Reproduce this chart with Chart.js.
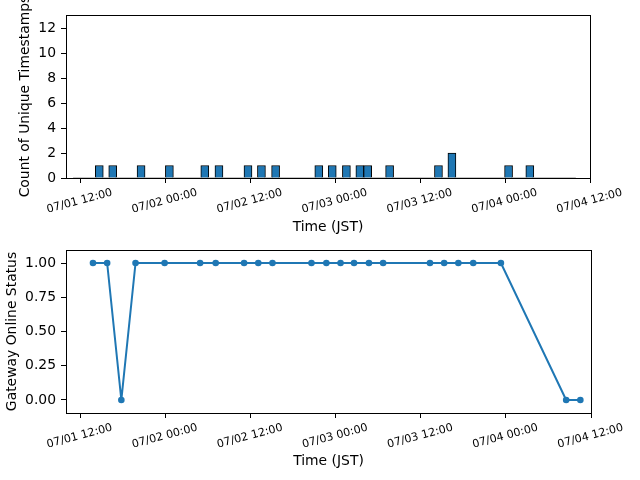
<!DOCTYPE html>
<html>
<head>
<meta charset="utf-8">
<script src="https://cdn.jsdelivr.net/npm/chart.js@4.4.1/dist/chart.umd.min.js"></script>
<style>
  html, body { margin: 0; padding: 0; background: #fff; }
  #wrap { position: relative; width: 640px; height: 480px; }
  .panel { position: absolute; left: 0; width: 640px; height: 240px; }
</style>
</head>
<body>
<div id="wrap">
  <div class="panel" style="top:0"><canvas id="countChart" width="640" height="240"></canvas></div>
  <div class="panel" style="top:240px"><canvas id="statusChart" width="640" height="240"></canvas></div>
</div>
<script>
// x values are hours counted from 07/01 00:00 JST
const timeTicks = [12, 24, 36, 48, 60, 72, 84];
const countTicks = [0, 2, 4, 6, 8, 10, 12];
const statusTicks = [0, 0.25, 0.5, 0.75, 1];

// top panel: histogram of unique timestamps
const binHours = [14.7, 16.6, 20.6, 24.6, 29.6, 31.6, 35.7, 37.6, 39.6, 45.7, 47.6, 49.6, 51.5, 52.6, 55.7, 62.6, 64.5, 72.5, 75.5];
const binCounts = [1, 1, 1, 1, 1, 1, 1, 1, 1, 1, 1, 1, 1, 1, 1, 1, 2, 1, 1];
const histRange = [11.0, 82.0];

// bottom panel: gateway online status
const statusHours = [13.8, 15.8, 17.8, 19.8, 23.9, 28.9, 31.1, 35.1, 37.1, 39.1, 44.6, 46.7, 48.7, 50.6, 52.7, 54.7, 61.3, 63.3, 65.3, 67.4, 71.3, 80.5, 82.5];
const statusValues = [1, 1, 0, 1, 1, 1, 1, 1, 1, 1, 1, 1, 1, 1, 1, 1, 1, 1, 1, 1, 1, 0, 0];

const blue = '#1f77b4';
Chart.defaults.font.family = 'DejaVu Sans';
Chart.defaults.color = '#000';

function fmtTime(h) {
    const day = 1 + Math.floor(h / 24);
    const hr = h % 24;
    return '07/0' + day + ' ' + String(hr).padStart(2, '0') + ':00';
}

const framePlugin = {
    id: 'frame',
    afterDraw(chart) {
        const { ctx, chartArea: a } = chart;
        ctx.save();
        ctx.strokeStyle = '#000';
        ctx.lineWidth = 1;
        ctx.strokeRect(Math.round(a.left) + 0.5, Math.round(a.top) + 0.5,
            Math.round(a.right - a.left), Math.round(a.bottom - a.top));
        ctx.restore();
    },
};

function timeAxis(axisHeight, titlePad) {
    return {
        type: 'linear',
        min: 10,
        max: 84,
        offset: false,
        afterBuildTicks: (s) => { s.ticks = timeTicks.map((v) => ({ value: v })); },
        afterFit: (s) => {
            s.height = axisHeight;
            s.paddingLeft = 0;
            s.paddingRight = 0;
        },
        grid: { display: true, drawOnChartArea: false, color: '#000', tickLength: 5, offset: false },
        border: { display: false },
        ticks: {
            autoSkip: false,
            minRotation: 15,
            maxRotation: 15,
            labelOffset: 32,
            padding: 3,
            font: { size: 11.1 },
            callback: (v) => fmtTime(v),
        },
        title: { display: true, text: 'Time (JST)', font: { size: 13.9 }, padding: { top: 0, bottom: titlePad } },
    };
}

function valueAxis(min, max, ticks, fmt, title, titlePad) {
    return {
        min: min,
        max: max,
        afterBuildTicks: (s) => { s.ticks = ticks.map((v) => ({ value: v })); },
        afterFit: (s) => {
            s.width = 66;
            s.paddingTop = 0;
            s.paddingBottom = 0;
        },
        grid: { display: true, drawOnChartArea: false, color: '#000', tickLength: 5 },
        border: { display: false },
        ticks: { padding: 5, font: { size: 13.9 }, callback: fmt },
        title: { display: true, text: title, font: { size: 13.9 }, padding: { top: titlePad, bottom: 0 } },
    };
}

function renderCountChart() {
    const canvas = document.getElementById('countChart');

    new Chart(canvas, {
        type: 'bar',
        data: {
            datasets: [{
                type: 'bar',
                data: binHours.map((h, i) => ({ x: h, y: binCounts[i] })),
                backgroundColor: blue,
                borderColor: '#000',
                borderWidth: 1,
                barThickness: 8,
                order: 0,
            }, {
                type: 'line',
                data: histRange.map((h) => ({ x: h, y: 0 })),
                borderColor: 'rgba(0,0,0,0.45)',
                borderWidth: 1,
                pointRadius: 0,
                order: 1,
            }],
        },
        options: {
            responsive: false,
            animation: false,
            layout: { padding: { left: 0, top: 15, right: 50, bottom: 0 } },
            plugins: { legend: { display: false }, tooltip: { enabled: false } },
            scales: {
                x: timeAxis(62, 4.7),
                y: valueAxis(0, 13.05, countTicks, (v) => String(v), 'Count of Unique Timestamps', 17),
            },
        },
        plugins: [framePlugin],
    });
}

function renderStatusChart() {
    const canvas = document.getElementById('statusChart');

    new Chart(canvas, {
        type: 'line',
        data: {
            datasets: [{
                data: statusHours.map((h, i) => ({ x: h, y: statusValues[i] })),
                borderColor: blue,
                backgroundColor: blue,
                borderWidth: 2,
                borderJoinStyle: 'round',
                pointRadius: 3.3,
                pointBorderWidth: 0,
                tension: 0,
            }],
        },
        options: {
            responsive: false,
            animation: false,
            layout: { padding: { left: 0, top: 10, right: 49, bottom: 0 } },
            plugins: { legend: { display: false }, tooltip: { enabled: false } },
            scales: {
                x: timeAxis(67, 10.2),
                y: valueAxis(-0.095, 1.095, statusTicks, (v) => v.toFixed(2), 'Gateway Online Status', 3.7),
            },
        },
        plugins: [framePlugin],
    });
}

renderCountChart();
renderStatusChart();
</script>
</body>
</html>
